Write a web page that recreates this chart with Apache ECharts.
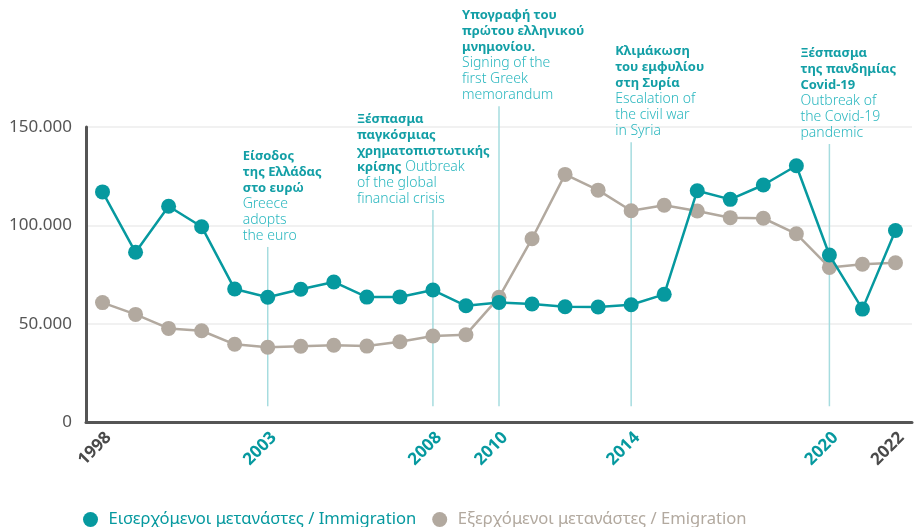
<!DOCTYPE html>
<html>
<head>
    <meta charset="utf-8" />
    <title>Μετανάστευση 1998-2022</title>
    <script src="https://cdn.jsdelivr.net/npm/echarts@6/dist/echarts.min.js"></script>
    <style>
        html, body { margin: 0; padding: 0; background: #ffffff; }
        #chart { width: 914px; height: 527px; }
    </style>
</head>
<body>
<div id="chart"></div>
<script type="text/javascript">
    // έτη
    var years = ['1998','1999','2000','2001','2002','2003','2004','2005','2006','2007','2008','2009',
        '2010','2011','2012','2013','2014','2015','2016','2017','2018','2019','2020','2021','2022'];
    // εισερχόμενοι / immigration
    var immigration = [117000, 86300, 109700, 99300, 67600, 63400, 67500, 71200, 63500, 63600, 67100, 59100,
        60800, 60000, 58600, 58500, 59600, 64900, 117600, 113200, 120500, 130300, 84900, 57400, 97400];
    // εξερχόμενοι / emigration
    var emigration = [60700, 54700, 47600, 46400, 39500, 38000, 38500, 39000, 38600, 40800, 43700, 44400,
        63400, 93200, 125900, 117900, 107400, 110200, 107300, 103900, 103600, 95700, 78600, 80200, 81000];
    // ετικέτες άξονα
    var labelYears = ['1998', '2003', '2008', '2010', '2014', '2020', '2022'];
    var eventYears = ['2003', '2008', '2010', '2014', '2020'];
    // σημειώσεις γεγονότων
    var annYears = ['2003', '2008', '2010', '2014', '2020'];
    var annTop = [89000, 107800, 160500, 142300, 141300];
    var annBottom = 8000;
    var annLabels = [
        '{b|Είσοδος}\n{b|της Ελλάδας}\n{b|στο ευρώ}\n{r|Greece}\n{r|adopts}\n{r|the euro}',
        '{b|Ξέσπασμα}\n{b|παγκόσμιας}\n{b|χρηματοπιστωτικής}\n{b|κρίσης} {r|Outbreak}\n{r|of the global}\n{r|financial crisis}',
        '{b|Υπογραφή του}\n{b|πρώτου ελληνικού}\n{b|μνημονίου.}\n{r|Signing of the}\n{r|first Greek}\n{r|memorandum}',
        '{b|Κλιμάκωση}\n{b|του εμφυλίου}\n{b|στη Συρία}\n{r|Escalation of}\n{r|the civil war}\n{r|in Syria}',
        '{b|Ξέσπασμα}\n{b|της πανδημίας}\n{b|Covid-19}\n{r|Outbreak of}\n{r|the Covid-19}\n{r|pandemic}'
    ];
    // μετατόπιση κειμένου από τη γραμμή (px)
    var annTextShift = [-25, -76, -37, -16, -29];

    var teal = '#06999f';
    var grey = '#b2a99f';
    var font = '"Noto Sans", "DejaVu Sans", sans-serif';

    var annData = annYears.map(function (y, i) { return [y, annTop[i], i]; });

    var myChart = echarts.init(document.getElementById('chart'));
    var option = {
        animation: false,
        textStyle: { fontFamily: font },
        grid: { left: 86, right: 2, top: 127, bottom: 105, containLabel: false },
        legend: {
            left: 83,
            top: 511,
            padding: 0,
            icon: 'circle',
            itemWidth: 26,
            itemHeight: 15,
            itemGap: 16,
            textStyle: { fontSize: 16.6, fontFamily: font },
            data: [
                { name: 'Εισερχόμενοι μετανάστες / Immigration', textStyle: { color: teal } },
                { name: 'Εξερχόμενοι μετανάστες / Emigration', textStyle: { color: grey } }
            ]
        },
        xAxis: {
            type: 'category',
            data: years,
            boundaryGap: true,
            axisLine: { lineStyle: { color: '#555', width: 3 } },
            axisTick: { alignWithLabel: true, inside: true, length: 7, interval: 0, lineStyle: { color: '#555', width: 2 } },
            axisLabel: {
                interval: 0,
                rotate: 45,
                margin: 7,
                verticalAlign: 'top',
                formatter: function (v) {
                    if (labelYears.indexOf(v) < 0) return '';
                    return eventYears.indexOf(v) >= 0 ? '{e|' + v + '}' : '{n|' + v + '}';
                },
                rich: {
                    e: { color: teal, fontSize: 17, fontWeight: 'bold', fontFamily: font },
                    n: { color: '#4a4a4a', fontSize: 17, fontWeight: 'bold', fontFamily: font }
                }
            },
            splitLine: { show: false }
        },
        yAxis: {
            type: 'value',
            min: 0,
            max: 150000,
            interval: 50000,
            axisLine: { show: true, lineStyle: { color: '#555', width: 3 } },
            axisTick: { show: false },
            splitLine: { lineStyle: { color: '#f1f1f1', width: 2 } },
            axisLabel: {
                color: '#555',
                fontSize: 17,
                margin: 14,
                formatter: function (v) {
                    return String(v).replace(/\B(?=(\d{3})+(?!\d))/g, '.');
                }
            }
        },
        series: [
            {
                name: 'Εξερχόμενοι μετανάστες / Emigration',
                type: 'line',
                data: emigration,
                symbol: 'circle',
                symbolSize: 15,
                z: 3,
                itemStyle: { color: grey },
                lineStyle: { color: grey, width: 2.5 }
            },
            {
                name: 'Εισερχόμενοι μετανάστες / Immigration',
                type: 'line',
                data: immigration,
                symbol: 'circle',
                symbolSize: 15,
                z: 4,
                itemStyle: { color: teal },
                lineStyle: { color: teal, width: 2.5 }
            },
            {
                // γραμμές και κείμενα γεγονότων
                type: 'custom',
                z: 1,
                silent: true,
                clip: false,
                data: annData,
                encode: { x: 0, y: 1 },
                renderItem: function (params, api) {
                    var i = api.value(2);
                    var top = api.coord([api.value(0), api.value(1)]);
                    var bot = api.coord([api.value(0), annBottom]);
                    return {
                        type: 'group',
                        children: [
                            {
                                type: 'line',
                                shape: { x1: top[0], y1: top[1], x2: bot[0], y2: bot[1] },
                                style: { stroke: '#a6dcdf', lineWidth: 1.5 }
                            },
                            {
                                type: 'text',
                                x: top[0] + annTextShift[i],
                                y: top[1] - 3,
                                style: {
                                    text: annLabels[i],
                                    align: 'left',
                                    verticalAlign: 'bottom',
                                    fontFamily: font,
                                    fontSize: 14,
                                    rich: {
                                        b: { fill: '#139fa6', fontWeight: 'bold', fontSize: 13, lineHeight: 16, fontFamily: font },
                                        r: { fill: '#2ab7bf', fontWeight: 300, fontSize: 14, lineHeight: 16, fontFamily: font }
                                    }
                                }
                            }
                        ]
                    };
                }
            }
        ]
    };
    myChart.setOption(option);
</script>
</body>
</html>
